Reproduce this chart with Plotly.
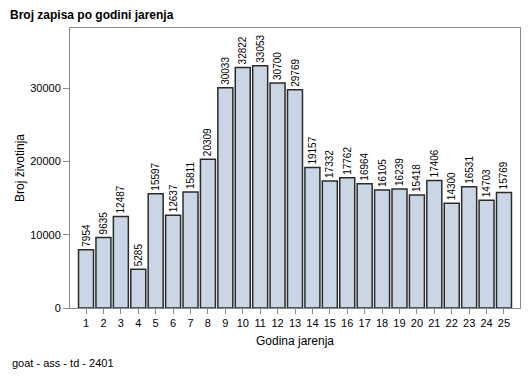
import plotly.graph_objects as go

godina = list(range(1, 26))
broj = [7954, 9635, 12487, 5285, 15597, 12637, 15811, 20309, 30033, 32822,
        33053, 30700, 29769, 19157, 17332, 17762, 16964, 16105, 16239, 15418,
        17406, 14300, 16531, 14703, 15769]
y_ticks = [0, 10000, 20000, 30000]

# page body has an 8px margin; size the figure to fit inside the window
W, H = 521, 362
font = "Liberation Sans, Arial, sans-serif"
axcol = "#8a8a8a"

fig = go.Figure(go.Bar(
    x=godina, y=broj,
    width=0.86,
    marker=dict(color="#cad5e5", line=dict(color="#2b2b2b", width=1.5)),
    text=[str(v) for v in broj],
    textposition="outside",
    textangle=-90,
    constraintext="none",
    textfont=dict(family=font, size=10, color="#000"),
    cliponaxis=False,
))

fig.update_layout(
    width=W, height=H,
    margin=dict(l=62, r=9, t=20, b=62, autoexpand=False),
    paper_bgcolor="white", plot_bgcolor="white",
    showlegend=False,
    font=dict(family=font, color="#000"),
    title=dict(text="<b>Broj zapisa po godini jarenja</b>",
               font=dict(family=font, size=12, color="#000"),
               xref="container", yref="container",
               x=2 / W, xanchor="left", y=1 - 7 / H, yanchor="middle"),
    annotations=[dict(text="goat - ass - td - 2401", xref="paper", yref="paper",
                      x=-60 / 450, y=-55 / 280, xanchor="left", yanchor="middle",
                      showarrow=False, font=dict(family=font, size=11, color="#000"))],
)

fig.update_xaxes(
    range=[0.08, 25.92], tickmode="array", tickvals=godina,
    ticktext=[str(g) for g in godina],
    ticks="outside", ticklen=5, tickcolor=axcol,
    showline=True, linecolor=axcol, linewidth=1, mirror=True,
    showgrid=False, zeroline=False, automargin=False,
    tickfont=dict(family=font, size=11, color="#000"),
    title=dict(text="Godina jarenja", font=dict(family=font, size=12, color="#000"), standoff=8),
)
fig.update_yaxes(
    range=[0, 38200], tickmode="array", tickvals=y_ticks,
    ticktext=[str(v) for v in y_ticks],
    ticks="outside", ticklen=6, tickcolor=axcol,
    showline=True, linecolor=axcol, linewidth=1, mirror=True,
    showgrid=False, zeroline=False, automargin=False,
    tickfont=dict(family=font, size=11, color="#000"),
    title=dict(text="Broj životinja", font=dict(family=font, size=12, color="#000"), standoff=3),
)

fig.write_html("out.html")
